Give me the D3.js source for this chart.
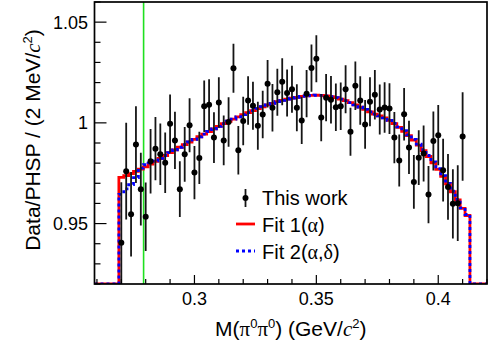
<!DOCTYPE html>
<html>
<head>
<meta charset="utf-8">
<script src="https://cdn.jsdelivr.net/npm/d3@7"></script>
<style>
  body { margin: 0; background: #fff; }
  svg { display: block; font-family: "Liberation Sans", Arial, sans-serif; }
</style>
</head>
<body>
<div class="chart"></div>
<script>
// Binning of the M(pi0 pi0) histogram
const binLow = 0.269;
const binWidth = 0.002;
const cuspMass = 0.27914;

// Data/PHSP ratio, one value per bin (71 points)
const ratio = [
  0.9405, 0.9760, 0.9546, 0.9892, 0.9671, 0.9534, 0.9809, 0.9872, 0.9844, 0.9802,
  0.9996, 0.9913, 0.9671, 0.9844, 0.9988, 0.9753, 0.9826, 1.0082, 1.0090, 0.9927,
  1.0101, 0.9913, 1.0004, 1.0271, 0.9864, 1.0009, 1.0111, 1.0085, 0.9986, 1.0042,
  1.0194, 1.0075, 1.0152, 1.0204, 1.0148, 1.0167, 1.0075, 1.0012, 1.0145, 1.0272,
  1.0318, 1.0026, 1.0125, 1.0115, 1.0077, 1.0082, 1.0167, 0.9956, 1.0184, 1.0111,
  0.9992, 1.0105, 1.0140, 1.0066, 1.0076, 1.0071, 0.9927, 0.9813, 1.0043, 0.9878,
  0.9707, 0.9827, 0.9848, 0.9644, 0.9910, 0.9939, 0.9765, 0.9682, 0.9598, 0.9601,
  0.9932
];
const ratioErr = [
  0.030, 0.024, 0.021, 0.019, 0.018, 0.017, 0.016, 0.0157, 0.0153, 0.015,
  0.0145, 0.0142, 0.0138, 0.0136, 0.0134, 0.0132, 0.013, 0.0128, 0.0127, 0.0126,
  0.0125, 0.0124, 0.0123, 0.0122, 0.0121, 0.012, 0.012, 0.0119, 0.0119, 0.0118,
  0.0118, 0.0118, 0.0117, 0.0117, 0.0117, 0.0117, 0.0117, 0.0117, 0.0117, 0.0117,
  0.0117, 0.0117, 0.0117, 0.0118, 0.0118, 0.0118, 0.0119, 0.0119, 0.012, 0.012,
  0.0121, 0.0122, 0.0123, 0.0124, 0.0125, 0.0126, 0.0127, 0.0129, 0.013, 0.0132,
  0.0134, 0.0136, 0.0139, 0.0142, 0.0146, 0.015, 0.0156, 0.0163, 0.0172, 0.0188,
  0.022
];

// Fit curves, one value per bin (72 bins)
const fit1 = [
  0.9729, 0.9738, 0.9748, 0.9759, 0.9770, 0.9781, 0.9795, 0.9809, 0.9823, 0.9838,
  0.9852, 0.9866, 0.9879, 0.9892, 0.9905, 0.9918, 0.9931, 0.9944, 0.9957, 0.9970,
  0.9983, 0.9996, 1.0008, 1.0019, 1.0030, 1.0041, 1.0051, 1.0061, 1.0071, 1.0080,
  1.0089, 1.0097, 1.0105, 1.0112, 1.0118, 1.0123, 1.0127, 1.0131, 1.0134, 1.0136,
  1.0137, 1.0136, 1.0134, 1.0130, 1.0125, 1.0118, 1.0110, 1.0100, 1.0089, 1.0078,
  1.0067, 1.0055, 1.0043, 1.0035, 1.0025, 1.0012, 0.9996, 0.9978, 0.9958, 0.9937,
  0.9914, 0.9889, 0.9862, 0.9833, 0.9802, 0.9769, 0.9734, 0.9697, 0.9658, 0.9617,
  0.9575, 0.9540
];
const fit2 = [
  0.9645, 0.9672, 0.9693, 0.9728, 0.9775, 0.9792, 0.9800, 0.9811, 0.9824, 0.9838,
  0.9852, 0.9866, 0.9879, 0.9892, 0.9905, 0.9918, 0.9931, 0.9944, 0.9957, 0.9970,
  0.9983, 0.9996, 1.0008, 1.0019, 1.0030, 1.0041, 1.0051, 1.0061, 1.0071, 1.0080,
  1.0089, 1.0097, 1.0105, 1.0112, 1.0118, 1.0123, 1.0127, 1.0131, 1.0134, 1.0136,
  1.0137, 1.0136, 1.0134, 1.0130, 1.0125, 1.0118, 1.0110, 1.0100, 1.0089, 1.0078,
  1.0067, 1.0055, 1.0043, 1.0035, 1.0025, 1.0012, 0.9997, 0.9980, 0.9961, 0.9940,
  0.9918, 0.9894, 0.9867, 0.9838, 0.9806, 0.9773, 0.9738, 0.9700, 0.9661, 0.9620,
  0.9578, 0.9545
];

// Axis ticks
const xMajor = [0.3, 0.35, 0.4];
const yMajor = [0.95, 1, 1.05];

// Layout
const width = 490;
const height = 353;
const frame = { left: 94.5, right: 487, top: 2, bottom: 284 };

const x = d3.scaleLinear().domain([0.259, 0.42]).range([frame.left, frame.right]);
const y = d3.scaleLinear().domain([0.92, 1.06]).range([frame.bottom, frame.top]);

const svg = d3.select('.chart')
  .append('svg')
  .attr('width', width)
  .attr('height', height);

svg.append('clipPath')
  .attr('id', 'plot-clip')
  .append('rect')
  .attr('x', frame.left)
  .attr('y', frame.top)
  .attr('width', frame.right - frame.left)
  .attr('height', frame.bottom - frame.top);

const plot = svg.append('g').attr('clip-path', 'url(#plot-clip)');

// Green line at the pi+ pi- threshold
plot.append('line')
  .attr('x1', x(cuspMass)).attr('x2', x(cuspMass))
  .attr('y1', frame.top).attr('y2', frame.bottom)
  .attr('stroke', '#1fe01f')
  .attr('stroke-width', 1.6);

// Step histogram for a fit
function fitPoints(values) {
  const [x0, x1] = x.domain();
  const yMin = y.domain()[0];
  const pts = [[x0, yMin]];
  values.forEach((v, i) => pts.push([binLow + i * binWidth, v]));
  pts.push([binLow + values.length * binWidth, yMin]);
  pts.push([x1, yMin]);
  return pts;
}

const step = d3.line()
  .x(d => x(d[0]))
  .y(d => y(d[1]))
  .curve(d3.curveStepAfter);

plot.append('path')
  .attr('d', step(fitPoints(fit1)))
  .attr('fill', 'none')
  .attr('stroke', '#ff0000')
  .attr('stroke-width', 2.8);

plot.append('path')
  .attr('d', step(fitPoints(fit2)))
  .attr('fill', 'none')
  .attr('stroke', '#0000ff')
  .attr('stroke-width', 2.8)
  .attr('stroke-dasharray', '3,3');

// Data points with error bars
const points = ratio.map((v, i) => ({ m: binLow + (i + 0.5) * binWidth, v, e: ratioErr[i] }));

plot.selectAll('.err')
  .data(points)
  .enter()
  .append('line')
  .attr('class', 'err')
  .attr('x1', d => x(d.m)).attr('x2', d => x(d.m))
  .attr('y1', d => y(d.v - d.e)).attr('y2', d => y(d.v + d.e))
  .attr('stroke', '#151515')
  .attr('stroke-width', 1.8);

plot.selectAll('.pt')
  .data(points)
  .enter()
  .append('circle')
  .attr('class', 'pt')
  .attr('cx', d => x(d.m))
  .attr('cy', d => y(d.v))
  .attr('r', 3)
  .attr('fill', '#000');

// Ticks (inside the frame)
const axes = svg.append('g').attr('stroke', '#000').attr('stroke-width', 1.2);

axes.selectAll('.xtick')
  .data(d3.range(0.26, 0.4205, 0.01))
  .enter()
  .append('line')
  .attr('x1', d => x(d)).attr('x2', d => x(d))
  .attr('y1', frame.bottom)
  .attr('y2', d => frame.bottom - (xMajor.some(t => Math.abs(t - d) < 1e-6) ? 9 : 5));

axes.selectAll('.ytick')
  .data(d3.range(0.92, 1.0605, 0.01))
  .enter()
  .append('line')
  .attr('y1', d => y(d)).attr('y2', d => y(d))
  .attr('x1', frame.left)
  .attr('x2', d => frame.left + (yMajor.some(t => Math.abs(t - d) < 1e-6) ? 12 : 6));

// Frame
svg.append('rect')
  .attr('x', frame.left)
  .attr('y', frame.top)
  .attr('width', frame.right - frame.left)
  .attr('height', frame.bottom - frame.top)
  .attr('fill', 'none')
  .attr('stroke', '#000')
  .attr('stroke-width', 1.7);

// Tick labels
svg.selectAll('.xlab')
  .data(xMajor)
  .enter()
  .append('text')
  .attr('x', d => x(d))
  .attr('y', 305)
  .attr('text-anchor', 'middle')
  .attr('font-size', 18)
  .text(d => d);

svg.selectAll('.ylab')
  .data(yMajor)
  .enter()
  .append('text')
  .attr('x', 88)
  .attr('y', d => y(d) + 6.5)
  .attr('text-anchor', 'end')
  .attr('font-size', 18)
  .text(d => d === 1 ? '1' : d);

// Axis titles
const serif = '"Liberation Serif", "DejaVu Serif", serif';

const xTitle = svg.append('text')
  .attr('x', (frame.left + frame.right) / 2)
  .attr('y', 336)
  .attr('text-anchor', 'middle')
  .attr('font-size', 21);
xTitle.append('tspan').text('M(');
xTitle.append('tspan').attr('font-family', serif).text('π');
xTitle.append('tspan').attr('font-size', 13).attr('dy', -8).text('0');
xTitle.append('tspan').attr('font-family', serif).attr('dy', 8).text('π');
xTitle.append('tspan').attr('font-size', 13).attr('dy', -8).text('0');
xTitle.append('tspan').attr('dy', 8).text(') (GeV/');
xTitle.append('tspan').attr('font-family', serif).attr('font-style', 'italic').text('c');
xTitle.append('tspan').attr('font-size', 13).attr('dy', -8).text('2');
xTitle.append('tspan').attr('dy', 8).text(')');

const yTitle = svg.append('text')
  .attr('transform', 'translate(40,140) rotate(-90)')
  .attr('text-anchor', 'middle')
  .attr('font-size', 21);
yTitle.append('tspan').text('Data/PHSP / (2 MeV/');
yTitle.append('tspan').attr('font-family', serif).attr('font-style', 'italic').text('c');
yTitle.append('tspan').attr('font-size', 13).attr('dy', -8).text('2');
yTitle.append('tspan').attr('dy', 8).text(')');

// Legend
const legend = svg.append('g').attr('font-size', 20);
const lx0 = 236, lx1 = 255, ltx = 262;

legend.append('line')
  .attr('x1', (lx0 + lx1) / 2).attr('x2', (lx0 + lx1) / 2)
  .attr('y1', 189).attr('y2', 207)
  .attr('stroke', '#151515').attr('stroke-width', 1.8);
legend.append('circle')
  .attr('cx', (lx0 + lx1) / 2).attr('cy', 198).attr('r', 3).attr('fill', '#000');
legend.append('text').attr('x', ltx).attr('y', 205).text('This work');

legend.append('line')
  .attr('x1', lx0).attr('x2', lx1).attr('y1', 224).attr('y2', 224)
  .attr('stroke', '#ff0000').attr('stroke-width', 2.8);
const t1 = legend.append('text').attr('x', ltx).attr('y', 231.5);
t1.append('tspan').text('Fit 1(');
t1.append('tspan').attr('font-family', serif).text('α');
t1.append('tspan').text(')');

legend.append('line')
  .attr('x1', lx0).attr('x2', lx1).attr('y1', 251).attr('y2', 251)
  .attr('stroke', '#0000ff').attr('stroke-width', 2.8).attr('stroke-dasharray', '3,3');
const t2 = legend.append('text').attr('x', ltx).attr('y', 258.5);
t2.append('tspan').text('Fit 2(');
t2.append('tspan').attr('font-family', serif).text('α');
t2.append('tspan').text(',');
t2.append('tspan').attr('font-family', serif).text('δ');
t2.append('tspan').text(')');
</script>
</body>
</html>
